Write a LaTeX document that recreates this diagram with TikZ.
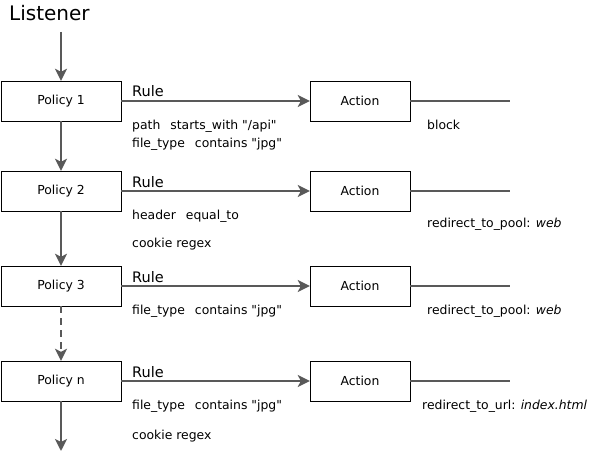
\documentclass[tikz,border=0pt]{standalone}
\usepackage{fontspec}
\setmainfont{DejaVu Sans}
\usepackage{xcolor}
\usetikzlibrary{arrows.meta}
\definecolor{flowGrey}{HTML}{595959}

\begin{document}
\begin{tikzpicture}[x=1pt,y=-1pt]
    \pgfmathsetmacro{\px}{61}
    \pgfmathsetmacro{\ax}{360}
    \tikzset{
        title/.style={anchor=base west,inner sep=0pt,font=\fontsize{20}{24}\selectfont},
        policybox/.style={draw=black,minimum width=120pt,minimum height=40pt,inner sep=0pt,font=\fontsize{12.4}{14}\selectfont},
        actionbox/.style={draw=black,minimum width=100pt,minimum height=40pt,inner sep=0pt,font=\fontsize{12.4}{14}\selectfont},
        rulelbl/.style={anchor=base west,inner sep=0pt,font=\fontsize{14.5}{16}\selectfont},
        cond/.style={anchor=base west,inner sep=0pt,font=\fontsize{12.4}{14}\selectfont},
        flow/.style={draw=flowGrey,line width=2pt,-{Stealth[length=12pt,width=12pt,inset=3pt]}},
        wire/.style={draw=flowGrey,line width=2pt}
    };
    \useasboundingbox (0,0) rectangle (590,460);
    \node[title] (listener) at (9,21) {Listener};
    \coordinate (entry) at (\px,32);
    \coordinate (exit) at (\px,451);
    \foreach \id/\y in {1/101,2/191,3/286,n/381}{
        \node[policybox] (policy\id) at (\px,\y) {Policy \id};
        \node[actionbox] (action\id) at (\ax,\y) {Action};
        \coordinate (tail\id) at (510,\y);
        \node[rulelbl] (rule\id) at (132,\y-4) {Rule};
        \draw[flow] (policy\id) -- (action\id);
        \draw[wire] (action\id) -- (tail\id);
        }
    % policy chain
    \draw[flow] (entry) -- (policy1);
    \draw[flow] (policy1) -- (policy2);
    \draw[flow] (policy2) -- (policy3);
    \draw[flow,dash pattern=on 7pt off 5pt] (policy3) -- (policyn);
    \draw[flow] (policyn) -- (exit);
    % conditions
    \node[cond] (cond1a) at (132,129) {path\hspace{10pt}starts\_with \textquotedbl/api\textquotedbl};
    \node[cond] (cond1b) at (132,148) {file\_type\hspace{10pt}contains \textquotedbl jpg\textquotedbl};
    \node[cond] (cond2a) at (132,219) {header\hspace{10pt}equal\_to};
    \node[cond] (cond2b) at (132,247) {cookie regex};
    \node[cond] (cond3a) at (132,314) {file\_type\hspace{10pt}contains \textquotedbl jpg\textquotedbl};
    \node[cond] (condna) at (132,409) {file\_type\hspace{10pt}contains \textquotedbl jpg\textquotedbl};
    \node[cond] (condnb) at (132,439) {cookie regex};
    % results
    \node[cond] (res1) at (427,129) {block};
    \node[cond] (res2) at (427,227) {redirect\_to\_pool: \textit{web}};
    \node[cond] (res3) at (427,314) {redirect\_to\_pool: \textit{web}};
    \node[cond] (resn) at (422,409) {redirect\_to\_url: \textit{index.html}};
\end{tikzpicture}
\end{document}
